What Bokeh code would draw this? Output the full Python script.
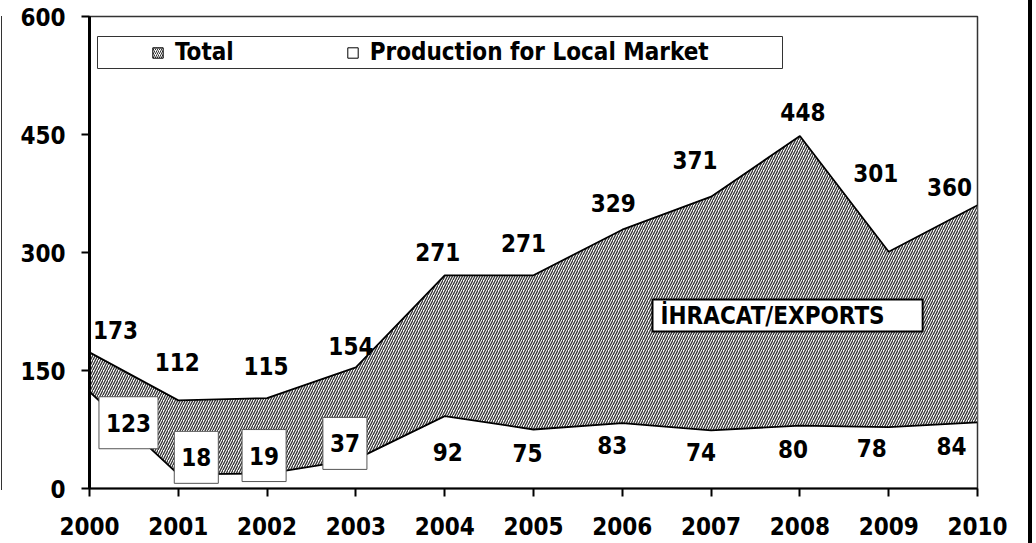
from bokeh.plotting import figure
from bokeh.models import (ColumnDataSource, Range1d, FixedTicker, Legend, LegendItem,
                          Label, CDSView, IndexFilter, BoxAnnotation, Div)
from bokeh.layouts import row
from bokeh.core.properties import value
from bokeh.embed import file_html
from bokeh.resources import INLINE

# ---- data ----
years = [2000, 2001, 2002, 2003, 2004, 2005, 2006, 2007, 2008, 2009, 2010]
total = [173, 112, 115, 154, 271, 271, 329, 371, 448, 301, 360]
local = [123, 18, 19, 37, 92, 75, 83, 74, 80, 78, 84]
y_ticks = [0, 150, 300, 450, 600]
legend_labels = ["Total", "Production for Local Market"]
area_label = "İHRACAT/EXPORTS"

# ---- label nudges (pixels, style only) ----
total_dx = [26, -1, -1, -5, -7, -10, -9, -16, 3, -13, -28]
total_dy = [-22, -38, -32, -21, -23, -32, -27, -37, -24, -79, -18]
local_dx = [39, 18, -3, -11, 3, -6, -10, -10, -7, -17, -26]
local_dy = [31, -17, -18, -16, 36, 23, 22, 22, 23, 21, 24]
boxed_idx = [0, 1, 2, 3]

FONT = "DejaVu Sans Condensed"
FS = "24px"
HATCH = "#333333"
NAN = float("nan")

src = ColumnDataSource(dict(
    year=years, total=total, local=local,
    total_txt=[str(v) for v in total], local_txt=[str(v) for v in local],
    tdx=total_dx, tdy=total_dy, ldx=local_dx, ldy=local_dy,
))

p = figure(width=1025, height=543, x_range=Range1d(2000, 2010), y_range=Range1d(0, 600),
           output_backend="svg", toolbar_location=None, margin=0,
           min_border_left=86, min_border_right=51, min_border_top=16, min_border_bottom=55)
p.grid.visible = False
p.background_fill_color = "white"
p.border_fill_color = "white"
p.outline_line_color = "#333333"
p.outline_line_width = 1.5

# hatched area between the two series
p.varea(x="year", y1="local", y2="total", source=src, fill_color="white",
        hatch_pattern="/", hatch_color=HATCH, hatch_scale=5, hatch_weight=1.3)
p.line("year", "total", source=src, line_color="black", line_width=1.8)
p.line("year", "local", source=src, line_color="black", line_width=1.8)

txt = dict(text_align="center", text_baseline="middle", text_font=value(FONT),
           text_font_style="bold", text_font_size=FS, text_color="black")
p.text(x="year", y="total", text="total_txt", source=src, x_offset="tdx", y_offset="tdy", **txt)
p.text(x="year", y="local", text="local_txt", source=src, x_offset="ldx", y_offset="ldy",
       view=CDSView(filter=IndexFilter(boxed_idx)),
       background_fill_color="white", border_line_color="#555555", border_line_width=1,
       padding=(7, 17), **txt)
p.text(x="year", y="local", text="local_txt", source=src, x_offset="ldx", y_offset="ldy",
       view=CDSView(filter=IndexFilter([i for i in range(len(years)) if i not in boxed_idx])), **txt)

# axes
for ax in (p.xaxis, p.yaxis):
    ax.major_label_text_font = FONT
    ax.major_label_text_font_style = "bold"
    ax.major_label_text_font_size = FS
    ax.major_label_text_color = "black"
    ax.axis_line_color = "black"
    ax.major_tick_line_color = "black"
    ax.major_tick_line_width = 2
    ax.major_tick_in = 0
    ax.major_tick_out = 8
    ax.minor_tick_line_color = None
p.xaxis.ticker = FixedTicker(ticks=years)
p.yaxis.ticker = FixedTicker(ticks=y_ticks)
p.xaxis.axis_line_width = 2
p.yaxis.axis_line_width = 3
p.xaxis.major_label_standoff = 20
p.yaxis.major_label_standoff = 16

cv = dict(left_units="canvas", right_units="canvas", top_units="canvas", bottom_units="canvas")

# legend frame
p.add_layout(BoxAnnotation(left=94, right=779, top=36, bottom=68, fill_color="white",
                           fill_alpha=1, line_color="#333333", line_width=1, line_alpha=1, **cv))

q_total = p.quad(left=[NAN], right=[NAN], top=[NAN], bottom=[NAN], fill_color="white",
                 hatch_pattern="/", hatch_color=HATCH, hatch_scale=4, hatch_weight=1,
                 line_color="black", line_width=1)
q_local = p.quad(left=[NAN], right=[NAN], top=[NAN], bottom=[NAN], fill_color="white",
                 line_color="black", line_width=1)

legend = Legend(items=[LegendItem(label=legend_labels[0], renderers=[q_total]),
                       LegendItem(label=legend_labels[1], renderers=[q_local])],
                location=(62, 422), orientation="horizontal", padding=0, margin=0,
                spacing=112, glyph_width=13, glyph_height=13, label_standoff=11,
                label_height=20, label_width=0, label_text_color="black",
                label_text_font=FONT, label_text_font_style="bold", label_text_font_size=FS,
                border_line_alpha=0, background_fill_alpha=0)
p.add_layout(legend)

p.add_layout(Label(x=563, y=173, x_units="screen", y_units="screen", text=area_label,
                   text_font=FONT, text_font_style="bold", text_font_size=FS,
                   text_color="black", text_align="left", text_baseline="middle",
                   background_fill_color="white", border_line_color="black",
                   border_line_width=2, padding=dict(left=8, right=38, top=2, bottom=2)))

# page edge rules seen in the reference
left_rule = Div(text="", width=3, height=474, margin=(16, 0, 53, 0),
                styles={"background": "linear-gradient(90deg, #ffffff 1px, #333333 1px, "
                                      "#333333 2.5px, #ffffff 2.5px)"})
right_rule = Div(text="", width=4, height=543, margin=0, styles={"background-color": "black"})
layout = row(left_rule, p, right_rule, margin=0, spacing=0)

open("out.html", "w").write(file_html(layout, INLINE))
